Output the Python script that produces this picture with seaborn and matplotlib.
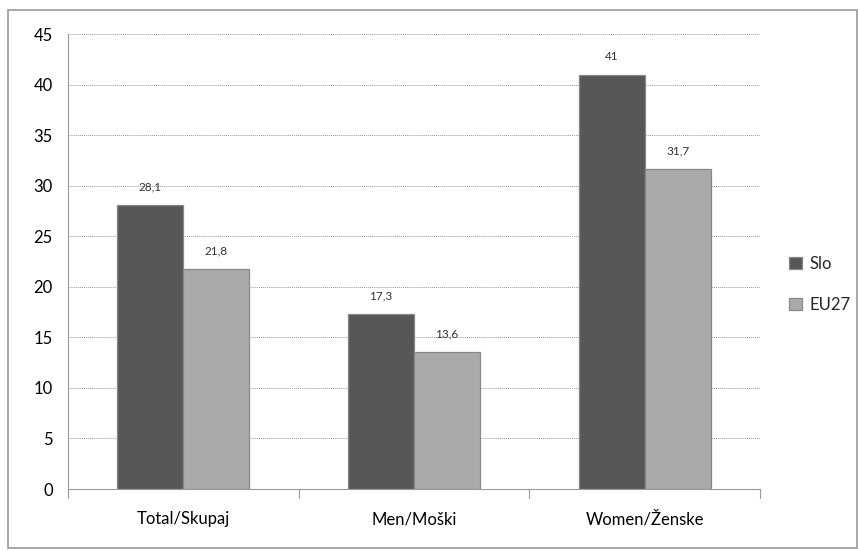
import numpy as np
import pandas as pd
import matplotlib
matplotlib.use("Agg")
import matplotlib.pyplot as plt
import seaborn as sns
from matplotlib.patches import Rectangle

# data
categories = ["Total/Skupaj", "Men/Moški", "Women/Ženske"]
series = ["Slo", "EU27"]
slo_values = [28.1, 17.3, 41]
eu_values = [21.8, 13.6, 31.7]
y_ticks = [0, 5, 10, 15, 20, 25, 30, 35, 40, 45]

df = pd.DataFrame({
    "category": categories * 2,
    "series": [series[0]] * 3 + [series[1]] * 3,
    "value": slo_values + eu_values,
})

sns.set_style("white")
plt.rcParams["font.family"] = ["Lato", "DejaVu Sans"]

fig = plt.figure(figsize=(8.58, 5.51), dpi=100)
ax = fig.add_axes([0.0793, 0.1125, 0.8067, 0.8255])

palette = {"Slo": "#575757", "EU27": "#aaaaaa"}
sns.barplot(
    data=df, x="category", y="value", hue="series",
    order=categories, hue_order=series, palette=palette,
    width=0.572, ax=ax, legend=True,
    edgecolor="#888888", linewidth=0.9,
)

# data labels
for cont in ax.containers:
    labels = [f"{v:g}".replace(".", ",") for v in cont.datavalues]
    ax.bar_label(cont, labels=labels, padding=9, fontsize=8.5, color="#333333")

ax.set_ylim(0, 45)
ax.set_xlim(-0.5, 2.5)
ax.set_yticks(y_ticks)
ax.set_xlabel("")
ax.set_ylabel("")
ax.yaxis.grid(True, linestyle=(0, (1, 1)), color="#9a9a9a", linewidth=0.7)
ax.set_axisbelow(True)

for s in ["top", "right"]:
    ax.spines[s].set_visible(False)
ax.spines["left"].set_color("#9a9a9a")
ax.spines["bottom"].set_color("#9a9a9a")

ax.tick_params(axis="y", length=5, labelsize=12, direction="out", pad=6)
ax.tick_params(axis="x", length=0, labelsize=12, pad=16)
ax.tick_params(axis="both", colors="#9a9a9a", labelcolor="black")

# boundary ticks on x axis
for xb in [-0.5, 0.5, 1.5, 2.5]:
    ax.plot([xb, xb], [0, -0.9], color="#9a9a9a", linewidth=0.8, clip_on=False)

leg = ax.legend(
    loc="center left", bbox_to_anchor=(1.02, 0.45), frameon=False,
    fontsize=12, handlelength=0.8, handleheight=0.8, handletextpad=0.4,
    labelspacing=1.5,
)

# outer frame
fig.patches.append(Rectangle((0.009, 0.005), 0.99, 0.977, transform=fig.transFigure,
                             fill=False, edgecolor="#9a9a9a", linewidth=1.2))

fig.savefig("out.png", dpi=100)
